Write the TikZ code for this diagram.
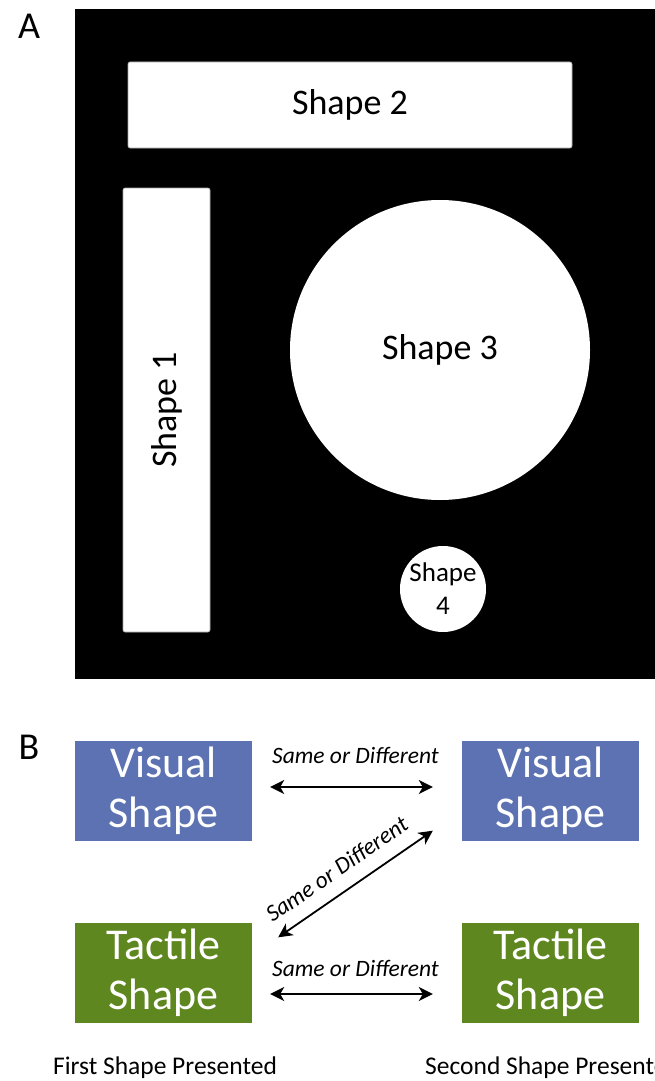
\documentclass[tikz,border=0pt]{standalone}
\usepackage{fontspec}
\setmainfont{Carlito}
\usetikzlibrary{arrows.meta}
\definecolor{visualblue}{RGB}{92,114,178}
\definecolor{tactilegreen}{RGB}{94,135,32}

\begin{document}
\begin{tikzpicture}[x=1pt,y=-1pt,
  shapebox/.style={rectangle, fill=white, draw=black!35, line width=0.6pt,
    rounded corners=2pt, inner sep=0pt, font=\fontsize{36}{40}\selectfont},
  shapedisc/.style={circle, fill=white, inner sep=0pt, align=center},
  cond/.style={rectangle, inner sep=0pt, minimum width=177pt, minimum height=100pt,
    text=white, align=center, font=\fontsize{44}{50}\selectfont},
  link/.style={line width=1.8pt,
    {Stealth[length=14pt,width=14pt,inset=4pt]}-{Stealth[length=14pt,width=14pt,inset=4pt]}},
  linklabel/.style={font=\itshape\fontsize{23.5}{26}\selectfont, inner sep=0pt},
  caption/.style={font=\fontsize{25.5}{30}\selectfont, inner sep=0pt},
  panel/.style={font=\fontsize{38}{40}\selectfont, inner sep=0pt}]

\useasboundingbox (0,0) rectangle (654,1081);

% Panel A: layout of the shapes on the board
\node[panel] (labA) at (29,26) {A};
\fill[black] (75,9) rectangle (660,679);

\node[shapebox, minimum width=444pt, minimum height=86pt] (s2) at (350,105) {Shape 2};
\node[shapebox, minimum width=444pt, minimum height=87pt, rotate=90] (s1) at (166.5,410) {Shape 1};
\node[shapedisc, minimum size=300pt, font=\fontsize{36}{40}\selectfont] (s3) at (440,350) {Shape 3};
\node[shapedisc, minimum size=86pt, font=\fontsize{27}{33}\selectfont] (s4) at (443,589) {Shape\\4};

% Panel B: comparison conditions
\node[panel] (labB) at (29,747) {B};

\node[cond, fill=visualblue] (vl) at (163.5,790.5) {Visual\\Shape};
\node[cond, fill=visualblue] (vr) at (550.5,790.5) {Visual\\Shape};
\node[cond, fill=tactilegreen] (tl) at (163.5,972.5) {Tactile\\Shape};
\node[cond, fill=tactilegreen] (tr) at (550.5,972.5) {Tactile\\Shape};

\draw[link] ([shift={(18pt,3.5pt)}]vl.east) -- ([shift={(-29pt,3.5pt)}]vr.west)
  node[linklabel, midway, yshift=32pt, xshift=4pt] (lab1) {Same or Different};
\draw[link] ([shift={(18pt,-21.5pt)}]tl.east) -- ([shift={(-29pt,-21.5pt)}]tr.west)
  node[linklabel, midway, yshift=26pt, xshift=4pt] (lab2) {Same or Different};
\draw[link] ([shift={(-29pt,10pt)}]vr.south west) -- ([shift={(26pt,-15pt)}]tl.north east)
  node[linklabel, midway, sloped, yshift=23pt, xshift=-7pt] (lab3) {Same or Different};

\node[caption] (c1) at (165,1068) {First Shape Presented};
\node[caption, anchor=west] (c2) at (425,1068) {Second Shape Presented};
\end{tikzpicture}
\end{document}
